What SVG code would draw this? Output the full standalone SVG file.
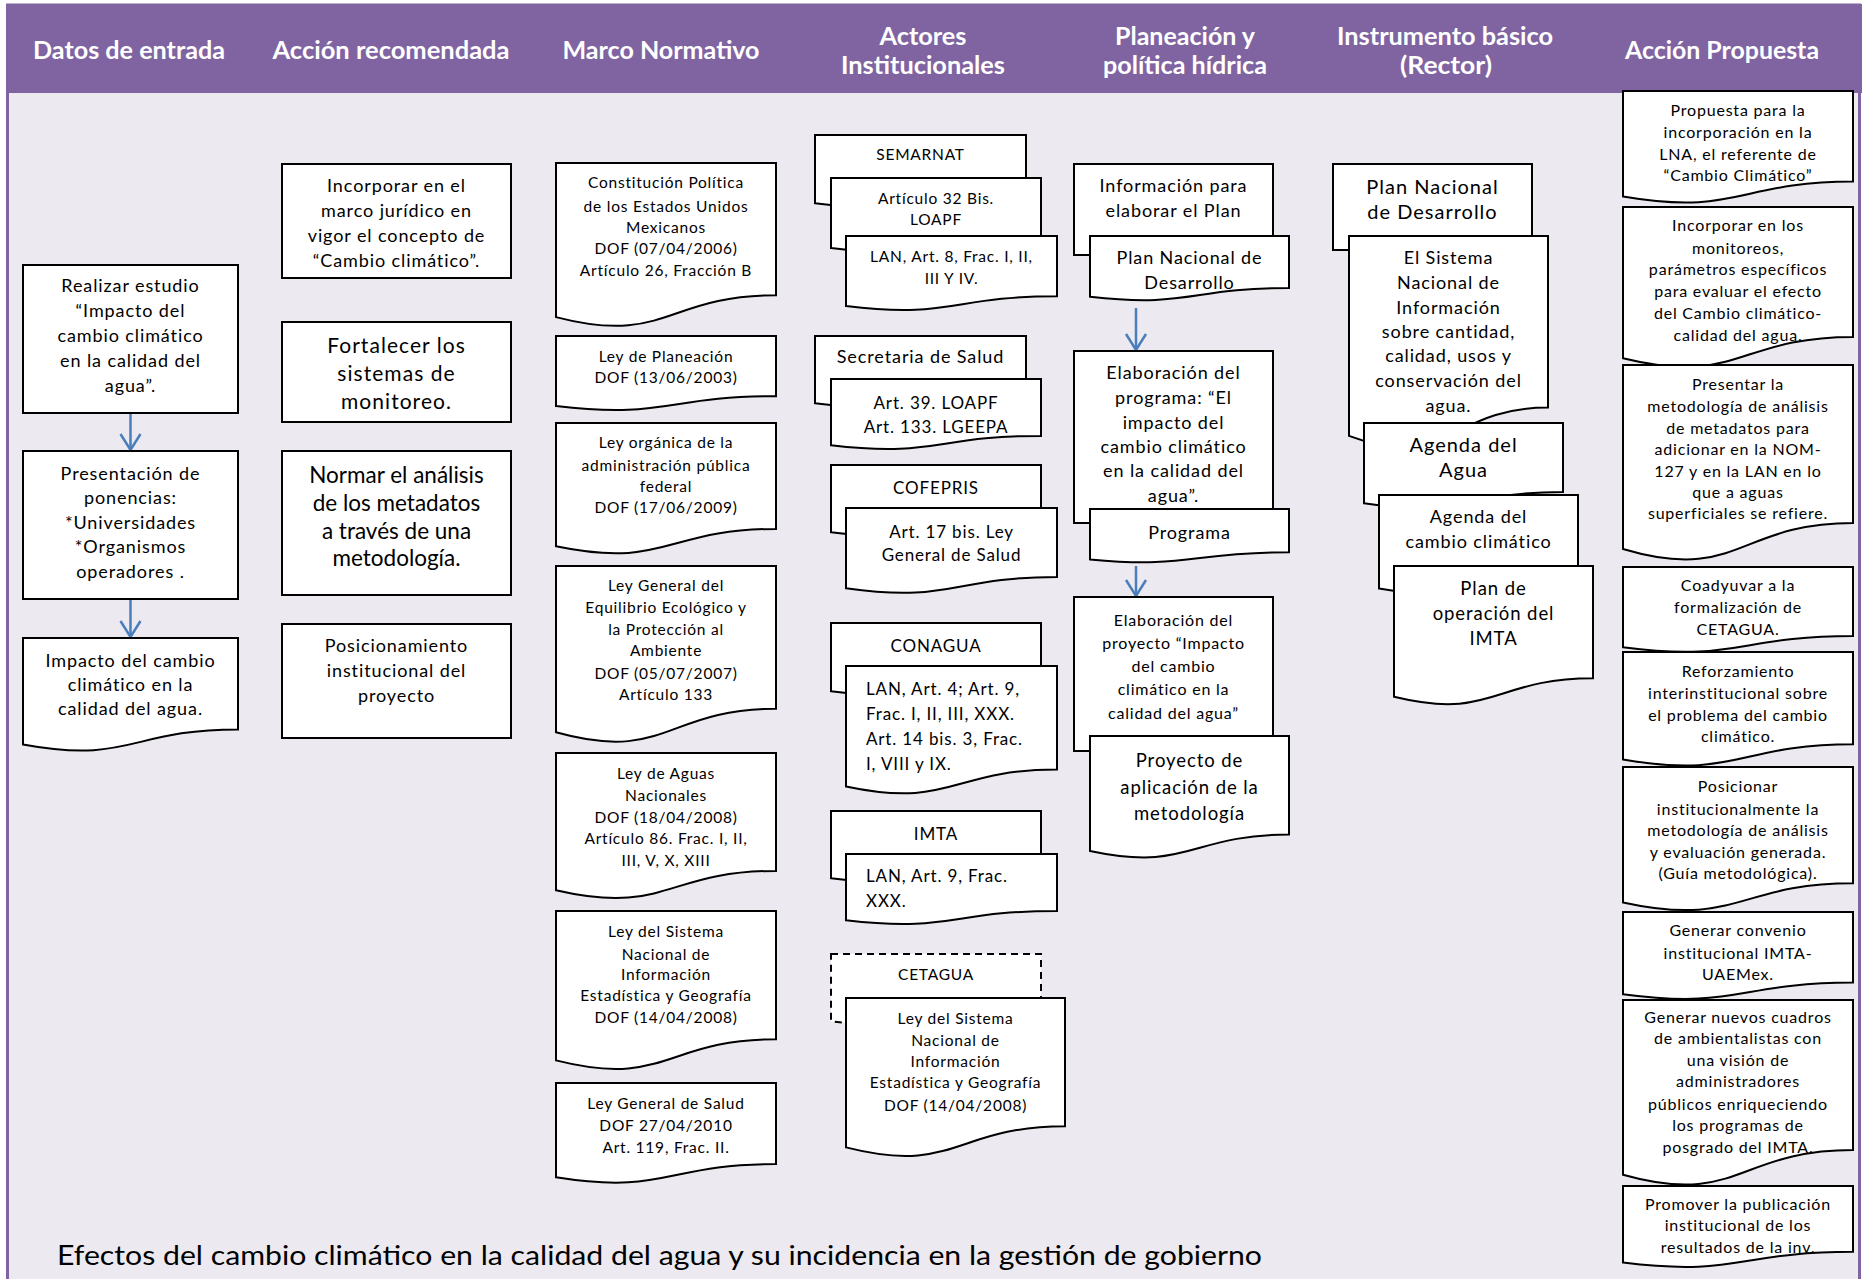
<svg xmlns="http://www.w3.org/2000/svg" width="1867" height="1279" viewBox="0 0 1867 1279">
<defs>
<style>
.bg{fill:#ECEAF0;stroke:#8064A2;stroke-width:3}
.hd{fill:#8064A2}
.ht{font-family:Lato,"Open Sans",sans-serif;font-weight:bold;font-size:25px;fill:#fff;text-anchor:middle}
.b{fill:#fff;stroke:#000;stroke-width:2}
.d{stroke-dasharray:7 5}
.t{font-family:Lato,"Open Sans",sans-serif;fill:#000;text-anchor:middle;letter-spacing:0.05em}
.l{text-anchor:start}
.ns{letter-spacing:0}
.s15{font-size:15.5px}.s16{font-size:16px}.s17{font-size:17px}.s18{font-size:18px}.s185{font-size:18.5px}.s20{font-size:20px}.s21{font-size:21px}.s22{font-size:22.5px}
.c{fill:none;stroke:#4A7EBB;stroke-width:2.5}
</style>
<marker id="ah" markerUnits="userSpaceOnUse" markerWidth="24" markerHeight="24" viewBox="-20 -12 24 24" refX="0" refY="0" orient="auto" overflow="visible"><path d="M-16,-10 L0,0 L-16,10" fill="none" stroke="#4A7EBB" stroke-width="2.5"/></marker>
</defs>

<g id="background">
<rect class="bg" x="7.5" y="5" width="1852" height="1300"/>
<rect class="hd" x="6" y="4" width="1856" height="89"/>
<text class="ht" x="129" y="59" textLength="192" lengthAdjust="spacingAndGlyphs">Datos de entrada</text>
<text class="ht" x="391" y="59" textLength="237" lengthAdjust="spacingAndGlyphs">Acción recomendada</text>
<text class="ht" x="661" y="59" textLength="197" lengthAdjust="spacingAndGlyphs">Marco Normativo</text>
<text class="ht" x="923" y="45" textLength="87" lengthAdjust="spacingAndGlyphs">Actores</text>
<text class="ht" x="923" y="74" textLength="164" lengthAdjust="spacingAndGlyphs">Institucionales</text>
<text class="ht" x="1185" y="45" textLength="140" lengthAdjust="spacingAndGlyphs">Planeación y</text>
<text class="ht" x="1185" y="74" textLength="164" lengthAdjust="spacingAndGlyphs">política hídrica</text>
<text class="ht" x="1445" y="45" textLength="216" lengthAdjust="spacingAndGlyphs">Instrumento básico</text>
<text class="ht" x="1446" y="74" textLength="92" lengthAdjust="spacingAndGlyphs">(Rector)</text>
<text class="ht" x="1722" y="59" textLength="194" lengthAdjust="spacingAndGlyphs">Acción Propuesta</text>
<text x="57" y="1265" font-family="Lato, 'Open Sans', sans-serif" font-size="27" fill="#000" textLength="1205" lengthAdjust="spacingAndGlyphs">Efectos del cambio climático en la calidad del agua y su incidencia en la gestión de gobierno</text>
</g>

<g id="connectors">
<line class="c" x1="130.5" y1="413" x2="130.5" y2="450" marker-end="url(#ah)"/>
<line class="c" x1="130.5" y1="599" x2="130.5" y2="637" marker-end="url(#ah)"/>
<line class="c" x1="1136" y1="308" x2="1136" y2="350" marker-end="url(#ah)"/>
<line class="c" x1="1136" y1="566" x2="1136" y2="596" marker-end="url(#ah)"/>
</g>

<!-- Column 1 -->
<g id="n-realizar">
<rect class="b" x="23" y="265" width="215" height="148"/>
<text class="t s18"><tspan x="130.5" y="292">Realizar estudio</tspan><tspan x="130.5" y="317">“Impacto del</tspan><tspan x="130.5" y="342">cambio climático</tspan><tspan x="130.5" y="367">en la calidad del</tspan><tspan x="130.5" y="392">agua”.</tspan></text>
</g>
<g id="n-presentacion">
<rect class="b" x="23" y="451" width="215" height="148"/>
<text class="t s18"><tspan x="130.5" y="480">Presentación de</tspan><tspan x="130.5" y="504">ponencias:</tspan><tspan x="130.5" y="529">*Universidades</tspan><tspan x="130.5" y="553">*Organismos</tspan><tspan x="130.5" y="578">operadores  .</tspan></text>
</g>
<g id="n-impacto">
<path class="b" d="M23,638 H238 V729.4 C130.5,729.4 130.5,764.3 23,744.5 Z"/>
<text class="t s18"><tspan x="130.5" y="667">Impacto del cambio</tspan><tspan x="130.5" y="691">climático en la</tspan><tspan x="130.5" y="715">calidad del agua.</tspan></text>
</g>

<!-- Column 2 -->
<g id="n-incorporar">
<rect class="b" x="282" y="164" width="229" height="114"/>
<text class="t s18"><tspan x="396.5" y="192">Incorporar en el</tspan><tspan x="396.5" y="217">marco jurídico en</tspan><tspan x="396.5" y="242">vigor el concepto de</tspan><tspan x="396.5" y="267">“Cambio climático”.</tspan></text>
</g>
<g id="n-fortalecer">
<rect class="b" x="282" y="322" width="229" height="100"/>
<text class="t s21"><tspan x="396.5" y="353">Fortalecer los</tspan><tspan x="396.5" y="381">sistemas de</tspan><tspan x="396.5" y="409">monitoreo.</tspan></text>
</g>
<g id="n-normar">
<rect class="b" x="282" y="451" width="229" height="144"/>
<text class="t ns s22"><tspan x="396.5" y="483">Normar el análisis</tspan><tspan x="396.5" y="511">de los metadatos</tspan><tspan x="396.5" y="539">a través de una</tspan><tspan x="396.5" y="566">metodología.</tspan></text>
</g>
<g id="n-posicionamiento">
<rect class="b" x="282" y="624" width="229" height="114"/>
<text class="t s18"><tspan x="396.5" y="652">Posicionamiento</tspan><tspan x="396.5" y="677">institucional del</tspan><tspan x="396.5" y="702">proyecto</tspan></text>
</g>

<!-- Column 3 -->
<g id="n-constitucion">
<path class="b" d="M556,163 H776 V295.3 C666,295.3 666,345.7 556,317.1 Z"/>
<text class="t s15"><tspan x="666" y="188">Constitución Política</tspan><tspan x="666" y="212">de los Estados Unidos</tspan><tspan x="666" y="233">Mexicanos</tspan><tspan x="666" y="254">DOF (07/04/2006)</tspan><tspan x="666" y="276">Artículo 26, Fracción B</tspan></text>
</g>
<g id="n-planeacion">
<path class="b" d="M556,336 H776 V396.2 C666,396.2 666,419.1 556,406.1 Z"/>
<text class="t s15"><tspan x="666" y="362">Ley de Planeación</tspan><tspan x="666" y="383">DOF (13/06/2003)</tspan></text>
</g>
<g id="n-organica">
<path class="b" d="M556,423 H776 V528.9 C666,528.9 666,569.2 556,546.3 Z"/>
<text class="t s15"><tspan x="666" y="448">Ley orgánica de la</tspan><tspan x="666" y="471">administración pública</tspan><tspan x="666" y="492">federal</tspan><tspan x="666" y="513">DOF (17/06/2009)</tspan></text>
</g>
<g id="n-lgeepa">
<path class="b" d="M556,566 H776 V708.8 C666,708.8 666,763.1 556,732.3 Z"/>
<text class="t s15"><tspan x="666" y="591">Ley General del</tspan><tspan x="666" y="613">Equilibrio Ecológico y</tspan><tspan x="666" y="635">la Protección al</tspan><tspan x="666" y="656">Ambiente</tspan><tspan x="666" y="679">DOF (05/07/2007)</tspan><tspan x="666" y="700">Artículo 133</tspan></text>
</g>
<g id="n-aguas">
<path class="b" d="M556,753 H776 V870.9 C666,870.9 666,915.8 556,890.3 Z"/>
<text class="t s15"><tspan x="666" y="779">Ley de Aguas</tspan><tspan x="666" y="801">Nacionales</tspan><tspan x="666" y="823">DOF (18/04/2008)</tspan><tspan x="666" y="844">Artículo 86. Frac. I, II,</tspan><tspan x="666" y="866">III, V, X, XIII</tspan></text>
</g>
<g id="n-snieg">
<path class="b" d="M556,911 H776 V1039.3 C666,1039.3 666,1088.2 556,1060.4 Z"/>
<text class="t s15"><tspan x="666" y="937">Ley del Sistema</tspan><tspan x="666" y="960">Nacional de</tspan><tspan x="666" y="980">Información</tspan><tspan x="666" y="1001">Estadística y Geografía</tspan><tspan x="666" y="1023">DOF (14/04/2008)</tspan></text>
</g>
<g id="n-salud">
<path class="b" d="M556,1083 H776 V1164 C666,1164 666,1194.9 556,1177.3 Z"/>
<text class="t s15"><tspan x="666" y="1109">Ley General de Salud</tspan><tspan x="666" y="1131">DOF 27/04/2010</tspan><tspan x="666" y="1153">Art. 119, Frac. II.</tspan></text>
</g>

<!-- Column 4 -->
<g id="n-semarnat">
<path class="b" d="M815,135 H1026 V193.5 C920.5,193.5 920.5,215.8 815,203.2 Z"/>
<text class="t s15" x="920.5" y="160">SEMARNAT</text>
<path class="b" d="M831,178 H1041 V238.2 C936,238.2 936,261.1 831,248 Z"/>
<text class="t s15"><tspan x="936" y="204">Artículo 32 Bis.</tspan><tspan x="936" y="225">LOAPF</tspan></text>
<path class="b" d="M846,236 H1057 V296.2 C951.5,296.2 951.5,319.1 846,306 Z"/>
<text class="t s15"><tspan x="951.5" y="262">LAN, Art. 8, Frac. I, II,</tspan><tspan x="951.5" y="284">III Y IV.</tspan></text>
</g>
<g id="n-ssa">
<path class="b" d="M815,336 H1026 V393.7 C920.5,393.7 920.5,415.7 815,403.2 Z"/>
<text class="t s18" x="920.5" y="363">Secretaria de Salud</text>
<path class="b" d="M831,379 H1041 V435.9 C936,435.9 936,457.6 831,445.3 Z"/>
<text class="t s17"><tspan x="936" y="409">Art. 39. LOAPF</tspan><tspan x="936" y="433">Art. 133. LGEEPA</tspan></text>
</g>
<g id="n-cofepris">
<path class="b" d="M831,465 H1041 V522.7 C936,522.7 936,544.7 831,532.2 Z"/>
<text class="t s17" x="936" y="494">COFEPRIS</text>
<path class="b" d="M846,508 H1057 V577 C951.5,577 951.5,603.2 846,588.3 Z"/>
<text class="t s17"><tspan x="951.5" y="538">Art. 17 bis. Ley</tspan><tspan x="951.5" y="561">General de Salud</tspan></text>
</g>
<g id="n-conagua">
<path class="b" d="M831,623 H1041 V681.5 C936,681.5 936,703.8 831,691.2 Z"/>
<text class="t s17" x="936" y="652">CONAGUA</text>
<path class="b" d="M846,666 H1057 V769.5 C951.5,769.5 951.5,808.9 846,786.5 Z"/>
<text class="t l s17"><tspan x="866" y="695">LAN, Art. 4; Art. 9,</tspan><tspan x="866" y="720">Frac. I, II, III, XXX.</tspan><tspan x="866" y="745">Art. 14 bis. 3, Frac.</tspan><tspan x="866" y="770">I, VIII y IX.</tspan></text>
</g>
<g id="n-imta">
<path class="b" d="M831,811 H1041 V868.7 C936,868.7 936,890.7 831,878.2 Z"/>
<text class="t s17" x="936" y="840">IMTA</text>
<path class="b" d="M846,854 H1057 V910.9 C951.5,910.9 951.5,932.6 846,920.3 Z"/>
<text class="t l s17"><tspan x="866" y="882">LAN, Art. 9, Frac.</tspan><tspan x="866" y="907">XXX.</tspan></text>
</g>
<g id="n-cetagua">
<path class="b d" d="M831,954 H1041 V1011.7 C936,1011.7 936,1033.7 831,1021.2 Z"/>
<text class="t s15" x="936" y="980">CETAGUA</text>
<path class="b" d="M846,998 H1065 V1126.3 C955.5,1126.3 955.5,1175.2 846,1147.4 Z"/>
<text class="t s15"><tspan x="955.5" y="1024">Ley del Sistema</tspan><tspan x="955.5" y="1046">Nacional de</tspan><tspan x="955.5" y="1067">Información</tspan><tspan x="955.5" y="1088">Estadística y Geografía</tspan><tspan x="955.5" y="1111">DOF (14/04/2008)</tspan></text>
</g>

<!-- Column 5 -->
<g id="n-info-plan">
<rect class="b" x="1074" y="164" width="199" height="91"/>
<text class="t s18"><tspan x="1173.5" y="192">Información para</tspan><tspan x="1173.5" y="217">elaborar el Plan</tspan></text>
<path class="b" d="M1090,236 H1289 V288.1 C1189.5,288.1 1189.5,308 1090,296.7 Z"/>
<text class="t s18"><tspan x="1189.5" y="264">Plan Nacional de</tspan><tspan x="1189.5" y="289">Desarrollo</tspan></text>
</g>
<g id="n-programa">
<rect class="b" x="1074" y="351" width="199" height="172"/>
<text class="t s18"><tspan x="1173.5" y="379">Elaboración del</tspan><tspan x="1173.5" y="404">programa: “El</tspan><tspan x="1173.5" y="429">impacto del</tspan><tspan x="1173.5" y="453">cambio climático</tspan><tspan x="1173.5" y="477">en la calidad del</tspan><tspan x="1173.5" y="502">agua”.</tspan></text>
<path class="b" d="M1090,509 H1289 V552.3 C1189.5,552.3 1189.5,568.8 1090,559.4 Z"/>
<text class="t s18" x="1189.5" y="539">Programa</text>
</g>
<g id="n-proyecto">
<rect class="b" x="1074" y="597" width="199" height="154"/>
<text class="t s16"><tspan x="1173.5" y="626">Elaboración del</tspan><tspan x="1173.5" y="649">proyecto “Impacto</tspan><tspan x="1173.5" y="672">del cambio</tspan><tspan x="1173.5" y="695">climático en la</tspan><tspan x="1173.5" y="719">calidad del agua”</tspan></text>
<path class="b" d="M1090,736 H1289 V834.6 C1189.5,834.6 1189.5,872.2 1090,850.9 Z"/>
<text class="t s185"><tspan x="1189.5" y="767">Proyecto de</tspan><tspan x="1189.5" y="794">aplicación de la</tspan><tspan x="1189.5" y="820">metodología</tspan></text>
</g>

<!-- Column 6 -->
<g id="n-instrumento">
<rect class="b" x="1333" y="164" width="199" height="86"/>
<text class="t s20"><tspan x="1432.5" y="194">Plan Nacional</tspan><tspan x="1432.5" y="219">de Desarrollo</tspan></text>
<path class="b" d="M1349,236 H1548 V407.6 C1448.5,407.6 1448.5,473 1349,435.9 Z"/>
<text class="t s18"><tspan x="1448.5" y="264">El Sistema</tspan><tspan x="1448.5" y="289">Nacional de</tspan><tspan x="1448.5" y="314">Información</tspan><tspan x="1448.5" y="338">sobre cantidad,</tspan><tspan x="1448.5" y="362">calidad, usos y</tspan><tspan x="1448.5" y="387">conservación del</tspan><tspan x="1448.5" y="412">agua.</tspan></text>
<path class="b" d="M1364,423 H1563 V492 C1463.5,492 1463.5,518.2 1364,503.3 Z"/>
<text class="t s20"><tspan x="1463.5" y="452">Agenda del</tspan><tspan x="1463.5" y="477">Agua</tspan></text>
<path class="b" d="M1379,495 H1578 V575.2 C1478.5,575.2 1478.5,605.8 1379,588.4 Z"/>
<text class="t s18"><tspan x="1478.5" y="523">Agenda del</tspan><tspan x="1478.5" y="548">cambio climático</tspan></text>
<path class="b" d="M1394,566 H1593 V678.3 C1493.5,678.3 1493.5,721 1394,696.8 Z"/>
<text class="t s185"><tspan x="1493.5" y="595">Plan de</tspan><tspan x="1493.5" y="620">operación del</tspan><tspan x="1493.5" y="645">IMTA</tspan></text>
</g>

<!-- Column 7 -->
<g id="n-propuesta-lna">
<path class="b" d="M1623,91 H1853 V181.6 C1738,181.6 1738,216.1 1623,196.5 Z"/>
<text class="t s16"><tspan x="1738" y="116">Propuesta para la</tspan><tspan x="1738" y="138">incorporación en la</tspan><tspan x="1738" y="160">LNA, el referente de</tspan><tspan x="1738" y="181">“Cambio Climático”</tspan></text>
</g>
<g id="n-monitoreos">
<path class="b" d="M1623,207 H1853 V336.9 C1738,336.9 1738,386.4 1623,358.3 Z"/>
<text class="t s16"><tspan x="1738" y="231">Incorporar en los</tspan><tspan x="1738" y="254">monitoreos,</tspan><tspan x="1738" y="275">parámetros específicos</tspan><tspan x="1738" y="297">para evaluar el efecto</tspan><tspan x="1738" y="319">del Cambio climático-</tspan><tspan x="1738" y="341">calidad del agua.</tspan></text>
</g>
<g id="n-presentar">
<path class="b" d="M1623,365 H1853 V523 C1738,523 1738,583.2 1623,549 Z"/>
<text class="t s16"><tspan x="1738" y="390">Presentar la</tspan><tspan x="1738" y="412">metodología de análisis</tspan><tspan x="1738" y="434">de metadatos para</tspan><tspan x="1738" y="455">adicionar en la NOM-</tspan><tspan x="1738" y="477">127 y en la LAN en lo</tspan><tspan x="1738" y="498">que a aguas</tspan><tspan x="1738" y="519">superficiales se refiere.</tspan></text>
</g>
<g id="n-coadyuvar">
<path class="b" d="M1623,567 H1853 V636 C1738,636 1738,662.2 1623,647.3 Z"/>
<text class="t s16"><tspan x="1738" y="591">Coadyuvar a la</tspan><tspan x="1738" y="613">formalización de</tspan><tspan x="1738" y="635">CETAGUA.</tspan></text>
</g>
<g id="n-reforzamiento">
<path class="b" d="M1623,652 H1853 V744.2 C1738,744.2 1738,779.4 1623,759.4 Z"/>
<text class="t s16"><tspan x="1738" y="677">Reforzamiento</tspan><tspan x="1738" y="699">interinstitucional sobre</tspan><tspan x="1738" y="721">el problema del cambio</tspan><tspan x="1738" y="742">climático.</tspan></text>
</g>
<g id="n-posicionar">
<path class="b" d="M1623,767 H1853 V883.3 C1738,883.3 1738,927.6 1623,902.4 Z"/>
<text class="t s16"><tspan x="1738" y="792">Posicionar</tspan><tspan x="1738" y="815">institucionalmente la</tspan><tspan x="1738" y="836">metodología de análisis</tspan><tspan x="1738" y="858">y evaluación generada.</tspan><tspan x="1738" y="879">(Guía metodológica).</tspan></text>
</g>
<g id="n-convenio">
<path class="b" d="M1623,912 H1853 V982.6 C1738,982.6 1738,1009.5 1623,994.2 Z"/>
<text class="t s16"><tspan x="1738" y="936">Generar convenio</tspan><tspan x="1738" y="959">institucional IMTA-</tspan><tspan x="1738" y="980">UAEMex.</tspan></text>
</g>
<g id="n-cuadros">
<path class="b" d="M1623,1000 H1853 V1150 C1738,1150 1738,1207.1 1623,1174.7 Z"/>
<text class="t s16"><tspan x="1738" y="1023">Generar nuevos cuadros</tspan><tspan x="1738" y="1044">de ambientalistas con</tspan><tspan x="1738" y="1066">una visión de</tspan><tspan x="1738" y="1087">administradores</tspan><tspan x="1738" y="1110">públicos enriqueciendo</tspan><tspan x="1738" y="1131">los programas de</tspan><tspan x="1738" y="1153">posgrado del IMTA.</tspan></text>
</g>
<g id="n-publicacion">
<path class="b" d="M1623,1186 H1853 V1251.8 C1738,1251.8 1738,1276.8 1623,1262.6 Z"/>
<text class="t s16"><tspan x="1738" y="1210">Promover la publicación</tspan><tspan x="1738" y="1231">institucional de los</tspan><tspan x="1738" y="1253">resultados de la inv.</tspan></text>
</g>
</svg>
